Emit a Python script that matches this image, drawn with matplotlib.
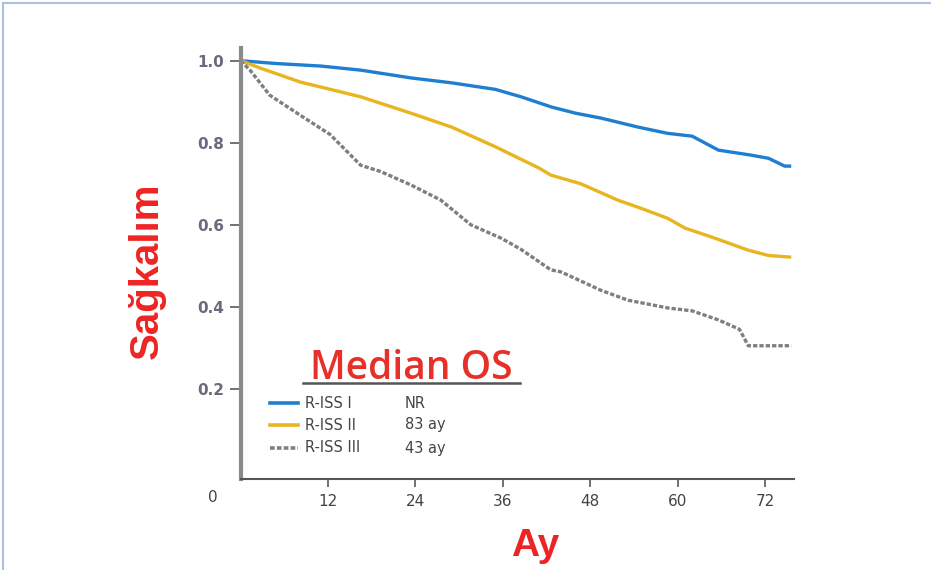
import matplotlib
matplotlib.use("Agg")
import matplotlib.pyplot as plt
from matplotlib.lines import Line2D

# Kaplan-Meier curves (months, survival)
t_i = [0, 5, 11, 16.5, 23.4, 29, 35, 38.5, 42.7, 46, 49.5, 54.6, 58.6, 62, 65.6, 70, 72.5, 74.7, 75.6]
s_i = [1.0, 0.993, 0.987, 0.977, 0.958, 0.946, 0.93, 0.912, 0.887, 0.872, 0.86, 0.838, 0.823, 0.816, 0.782, 0.77, 0.762, 0.743, 0.743]

t_ii = [0, 2.7, 8.2, 16.5, 23.4, 29, 35, 41, 42.6, 46.7, 51.8, 55, 58.6, 61, 65, 69.7, 72.5, 75.6]
s_ii = [1.0, 0.982, 0.948, 0.912, 0.872, 0.838, 0.79, 0.738, 0.721, 0.70, 0.66, 0.64, 0.616, 0.592, 0.568, 0.538, 0.525, 0.521]

t_iii = [0, 1.3, 4, 8.2, 12.3, 16.5, 19.2, 23.4, 27.5, 31.6, 35.8, 38.5, 42.6, 44, 49.5, 53.2, 58.7, 62, 65.6, 68.5, 69.7, 72, 75.6]
s_iii = [1.0, 0.977, 0.916, 0.867, 0.82, 0.745, 0.73, 0.697, 0.66, 0.60, 0.567, 0.54, 0.49, 0.485, 0.44, 0.416, 0.397, 0.39, 0.368, 0.345, 0.305, 0.305, 0.305]

groups = ["R-ISS I", "R-ISS II", "R-ISS III"]
medians = ["NR", "83 ay", "43 ay"]
colors = ["#1f7ed0", "#e8b520", "#7f7f7f"]
xticks = [12, 24, 36, 48, 60, 72]
yticks = [0.2, 0.4, 0.6, 0.8, 1.0]

DASH = (1.3, 0.6)

fig = plt.figure(figsize=(9.31, 5.70), dpi=100)
ax = fig.add_axes([0.2584, 0.1596, 0.853 - 0.2584, 0.9158 - 0.1596])

ax.plot(t_i, s_i, color=colors[0], lw=2.4, solid_capstyle="butt")
ax.plot(t_ii, s_ii, color=colors[1], lw=2.4, solid_capstyle="butt")
ax.plot(t_iii, s_iii, color=colors[2], lw=2.4, dashes=DASH)

ax.set_xlim(0, 76)
ax.set_ylim(-0.02, 1.031)
ax.set_xticks(xticks)
ax.set_yticks(yticks)
ax.set_yticklabels([f"{v:.1f}" for v in yticks], fontweight="bold",
                   color="#686b7c", fontsize=11)
ax.set_xticklabels([str(v) for v in xticks], color="#444444", fontsize=11)
ax.tick_params(axis="y", length=8, width=1.3, color="#666666", pad=4)
ax.tick_params(axis="x", length=6, width=1.3, color="#666666", pad=5)

for side in ["top", "right"]:
    ax.spines[side].set_visible(False)
ax.spines["left"].set_color("#8a8a8a")
ax.spines["left"].set_linewidth(3)
ax.spines["bottom"].set_color("#555555")
ax.spines["bottom"].set_linewidth(1.5)

# origin label sits left of the axis corner
fig.text(213 / 931, 1 - 497 / 570, "0", color="#444444", fontsize=11,
         ha="center", va="center")

# axis titles
fig.text(147 / 931, 1 - 271 / 570, "Sağkalım", color="#ee2424", fontsize=29,
         fontweight="bold", rotation=90, ha="center", va="center",
         family="Liberation Sans")
fig.text(535 / 931, 1 - 546 / 570, "Ay", color="#ee2424", fontsize=28,
         fontweight="bold", ha="center", va="center", family="Liberation Sans")

# legend block
fig.text(411 / 931, 1 - 369 / 570, "Median OS", color="#e8302a", fontsize=28,
         fontweight="semibold", ha="center", va="center", family="Open Sans")
fig.add_artist(Line2D([303 / 931, 520 / 931], [1 - 383 / 570, 1 - 383 / 570],
                      color="#555555", lw=1.8))
rows = [403, 425, 448]
for i, g in enumerate(groups):
    yy = 1 - rows[i] / 570
    kw = dict(dashes=DASH) if i == 2 else {}
    fig.add_artist(Line2D([270 / 931, 298 / 931], [yy, yy], color=colors[i],
                          lw=2.6, **kw))
    fig.text(305 / 931, yy, g, color="#444444", fontsize=10.5, va="center")
    fig.text(405 / 931, yy, medians[i], color="#444444", fontsize=10.5,
             va="center")

# light frame on top and left edges
fig.add_artist(Line2D([3 / 931, 1], [1 - 3 / 570, 1 - 3 / 570], color="#a9c0e0", lw=1.5))
fig.add_artist(Line2D([3 / 931, 3 / 931], [0, 1 - 3 / 570], color="#a9c0e0", lw=1.5))

fig.savefig("out.png", dpi=100)
